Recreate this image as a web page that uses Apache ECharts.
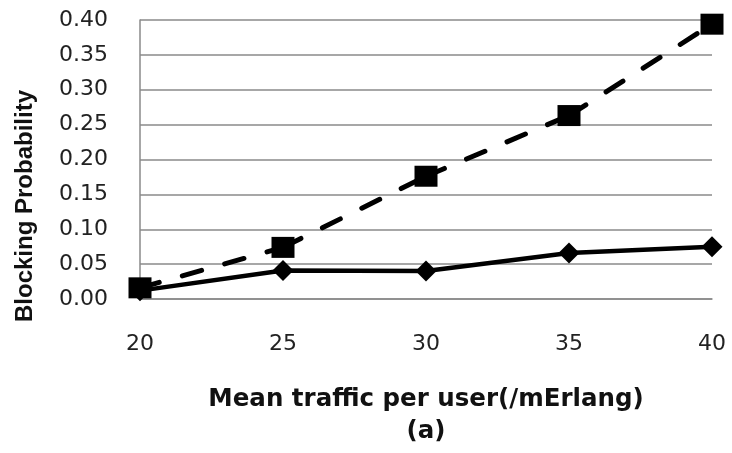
<!DOCTYPE html>
<html>
<head>
<meta charset="utf-8">
<script src="https://cdn.jsdelivr.net/npm/echarts@6/dist/echarts.min.js"></script>
<style>
  html, body { margin: 0; padding: 0; background: #fff; }
  #chart { width: 732px; height: 453px; }
</style>
</head>
<body>
<div id="chart"></div>
<script>
// Mean traffic per user (mErlang)
const traffic = [20, 25, 30, 35, 40];
// Blocking probability, solid line with diamonds
const blockingSolid = [0.012, 0.041, 0.040, 0.066, 0.075];
// Blocking probability, dashed line with squares
const blockingDashed = [0.016, 0.074, 0.176, 0.263, 0.394];
// Y axis tick values
const yTicks = [0, 0.05, 0.10, 0.15, 0.20, 0.25, 0.30, 0.35, 0.40];

const pairs = (xs, ys) => xs.map((x, i) => [x, ys[i]]);
const gridGray = '#8a8a8a';

// The dashed curve is drawn one segment per series so the dash pattern
// restarts at every data point.
const dashedSegments = traffic.slice(0, -1).map((x, i) => ({
  type: 'line',
  data: [[traffic[i], blockingDashed[i]], [traffic[i + 1], blockingDashed[i + 1]]],
  showSymbol: false,
  symbol: 'none',
  silent: true,
  z: 3,
  lineStyle: { color: '#000', width: 5, type: [20, 24], cap: 'round' }
}));

const chart = echarts.init(document.getElementById('chart'), null, { renderer: 'canvas' });
chart.setOption({
  animation: false,
  backgroundColor: '#fff',
  grid: { left: 140, right: 20, top: 20, bottom: 153.5, containLabel: false },
  xAxis: {
    type: 'value',
    min: traffic[0],
    max: traffic[traffic.length - 1],
    interval: 5,
    axisLine: { show: true, lineStyle: { color: gridGray, width: 1.5 } },
    axisTick: { show: false },
    splitLine: { show: false },
    axisLabel: {
      margin: 34,
      color: '#222',
      fontFamily: 'DejaVu Sans',
      fontSize: 22
    },
    name: 'Mean traffic per user(/mErlang)\n(a)',
    nameLocation: 'middle',
    nameGap: 85,
    nameTextStyle: {
      color: '#111',
      fontFamily: 'DejaVu Sans',
      fontWeight: 'bold',
      fontSize: 24.5,
      lineHeight: 32
    }
  },
  yAxis: {
    type: 'value',
    min: yTicks[0],
    max: yTicks[yTicks.length - 1],
    interval: 0.05,
    axisLine: { show: true, lineStyle: { color: gridGray, width: 1.5 } },
    axisTick: { show: false },
    splitLine: { show: true, lineStyle: { color: gridGray, width: 1.5 } },
    axisLabel: {
      margin: 32,
      color: '#222',
      fontFamily: 'DejaVu Sans',
      fontSize: 22,
      formatter: v => v.toFixed(2)
    }
  },
  graphic: [{
    type: 'text',
    x: 25,
    y: 206,
    rotation: Math.PI / 2,
    style: {
      text: 'Blocking Probability',
      fill: '#111',
      font: 'bold 24px "Liberation Sans"',
      align: 'center',
      verticalAlign: 'middle'
    }
  }],
  series: [
    {
      type: 'line',
      data: pairs(traffic, blockingSolid),
      symbol: 'diamond',
      symbolSize: 21,
      z: 2,
      itemStyle: { color: '#000' },
      lineStyle: { color: '#000', width: 4.5 }
    },
    ...dashedSegments,
    {
      type: 'scatter',
      data: pairs(traffic, blockingDashed),
      symbol: 'rect',
      symbolSize: [23, 21],
      z: 4,
      itemStyle: { color: '#000', opacity: 1 }
    }
  ]
});
</script>
</body>
</html>
